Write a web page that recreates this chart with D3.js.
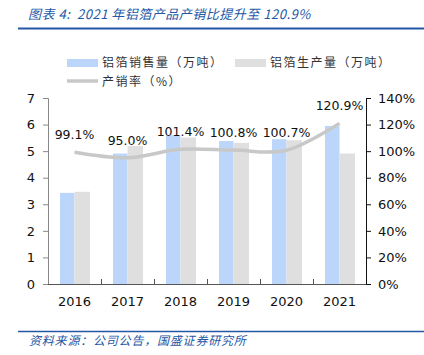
<!DOCTYPE html>
<html><head><meta charset="utf-8">
<script src="https://cdn.jsdelivr.net/npm/d3@7"></script>
<style>body{margin:0;background:#fff}svg{display:block}text{white-space:pre}</style>
</head><body>
<script>
const years = ["2016","2017","2018","2019","2020","2021"];
const sales = [3.43, 4.91, 5.60, 5.38, 5.45, 5.95];
const production = [3.47, 5.19, 5.51, 5.31, 5.41, 4.91];
const ratio = [99.1, 95.0, 101.4, 100.8, 100.7, 120.9];
const leftTicks = [0,1,2,3,4,5,6,7];
const rightTicks = [0,20,40,60,80,100,120,140];
const seriesNames = ["铝箔销售量（万吨）","铝箔生产量（万吨）","产销率（%）"];
const title = "图表 4:  2021 年铝箔产品产销比提升至 120.9%";
const source = "资料来源：公司公告，国盛证券研究所";

const W=424,H=355;
const svg=d3.select("body").append("svg").attr("width",W).attr("height",H);
const m={l:48,r:366,t:98,b:284};
const numFont="'DejaVu Sans', Verdana, sans-serif";
const cjk="'Noto Sans CJK SC', sans-serif";
const blueTxt="#2457a6";

// title
svg.append("text").attr("x",28).attr("y",19).attr("font-family",cjk).attr("font-style","italic")
  .attr("font-size",13).attr("letter-spacing",0.5).attr("fill",blueTxt).text(title);
svg.append("line").attr("x1",18).attr("x2",424).attr("y1",28.5).attr("y2",28.5).attr("stroke","#2457a6").attr("stroke-width",2);

const x=d3.scaleBand().domain(years).range([m.l,m.r]);
const yL=d3.scaleLinear().domain([0,7]).range([m.b,m.t]);
const yR=d3.scaleLinear().domain([0,140]).range([m.b,m.t]);
const bw=14.5;

const g=svg.append("g");
g.selectAll(".s").data(years).join("rect").attr("fill","#bcd6fb")
  .attr("x",d=>x(d)+x.bandwidth()/2-bw).attr("width",bw)
  .attr("y",(d,i)=>yL(sales[i])).attr("height",(d,i)=>yL(0)-yL(sales[i]));
g.selectAll(".p").data(years).join("rect").attr("fill","#dfdfdf")
  .attr("x",d=>x(d)+x.bandwidth()/2).attr("width",bw+1)
  .attr("y",(d,i)=>yL(production[i])).attr("height",(d,i)=>yL(0)-yL(production[i]));

const line=d3.line().x((d,i)=>x(years[i])+x.bandwidth()/2).y(d=>yR(d)).curve(d3.curveCardinal);
g.append("path").datum(ratio).attr("d",line).attr("fill","none").attr("stroke","#c8c8c8").attr("stroke-width",3.5);

g.selectAll(".lbl").data(ratio).join("text")
  .attr("x",(d,i)=>x(years[i])+x.bandwidth()/2).attr("y",d=>yR(d)-13)
  .attr("text-anchor","middle").attr("font-family",numFont).attr("font-size",12.5).attr("fill","#111")
  .text(d=>d.toFixed(1)+"%");

// left axis
const la=svg.append("g").attr("transform",`translate(${m.l},0)`)
  .call(d3.axisLeft(yL).tickValues(leftTicks).tickSize(5).tickPadding(8).tickFormat(d3.format("d")));
la.select(".domain").attr("stroke","#888");
la.selectAll(".tick line").attr("stroke","#888");
la.selectAll("text").attr("font-family",numFont).attr("font-size",13).attr("fill","#111");

// right axis
const ra=svg.append("g").attr("transform",`translate(${m.r},0)`)
  .call(d3.axisRight(yR).tickValues(rightTicks).tickSize(5).tickPadding(7).tickFormat(d=>d+"%"));
ra.select(".domain").attr("stroke","#111");
ra.selectAll(".tick line").attr("stroke","#111");
ra.selectAll("text").attr("font-family",numFont).attr("font-size",13).attr("fill","#111");

// bottom axis
svg.append("line").attr("x1",m.l).attr("x2",m.r).attr("y1",m.b+0.5).attr("y2",m.b+0.5).attr("stroke","#555");
svg.selectAll(".bt").data(years.slice(1)).join("line")
  .attr("x1",d=>x(d)+0.5).attr("x2",d=>x(d)+0.5).attr("y1",m.b).attr("y2",m.b-5).attr("stroke","#555");
svg.selectAll(".xl").data(years).join("text")
  .attr("x",d=>x(d)+x.bandwidth()/2).attr("y",m.b+22)
  .attr("text-anchor","middle").attr("font-family",numFont).attr("font-size",13).attr("fill","#111").text(d=>d);

// legend
const lg=svg.append("g");
const lgText=(x0,y0,t)=>lg.append("text").attr("x",x0).attr("y",y0).attr("font-family",cjk).attr("font-size",12)
  .attr("letter-spacing",1.5).attr("fill","#333").text(t);
lg.append("rect").attr("x",67).attr("y",59).attr("width",31).attr("height",8).attr("fill","#bcd6fb");
lgText(102,67,seriesNames[0]);
lg.append("rect").attr("x",235).attr("y",59).attr("width",31).attr("height",8).attr("fill","#dfdfdf");
lgText(270,67,seriesNames[1]);
lg.append("line").attr("x1",67).attr("x2",98).attr("y1",81).attr("y2",81).attr("stroke","#c8c8c8").attr("stroke-width",3.5);
lgText(102,86,seriesNames[2]);

// footer
svg.append("line").attr("x1",18).attr("x2",424).attr("y1",331.5).attr("y2",331.5).attr("stroke","#2457a6").attr("stroke-width",1.5);
svg.append("text").attr("x",29).attr("y",345).attr("font-family",cjk).attr("font-style","italic")
  .attr("font-size",12).attr("letter-spacing",0.8).attr("fill",blueTxt).text(source);
</script>
</body></html>
